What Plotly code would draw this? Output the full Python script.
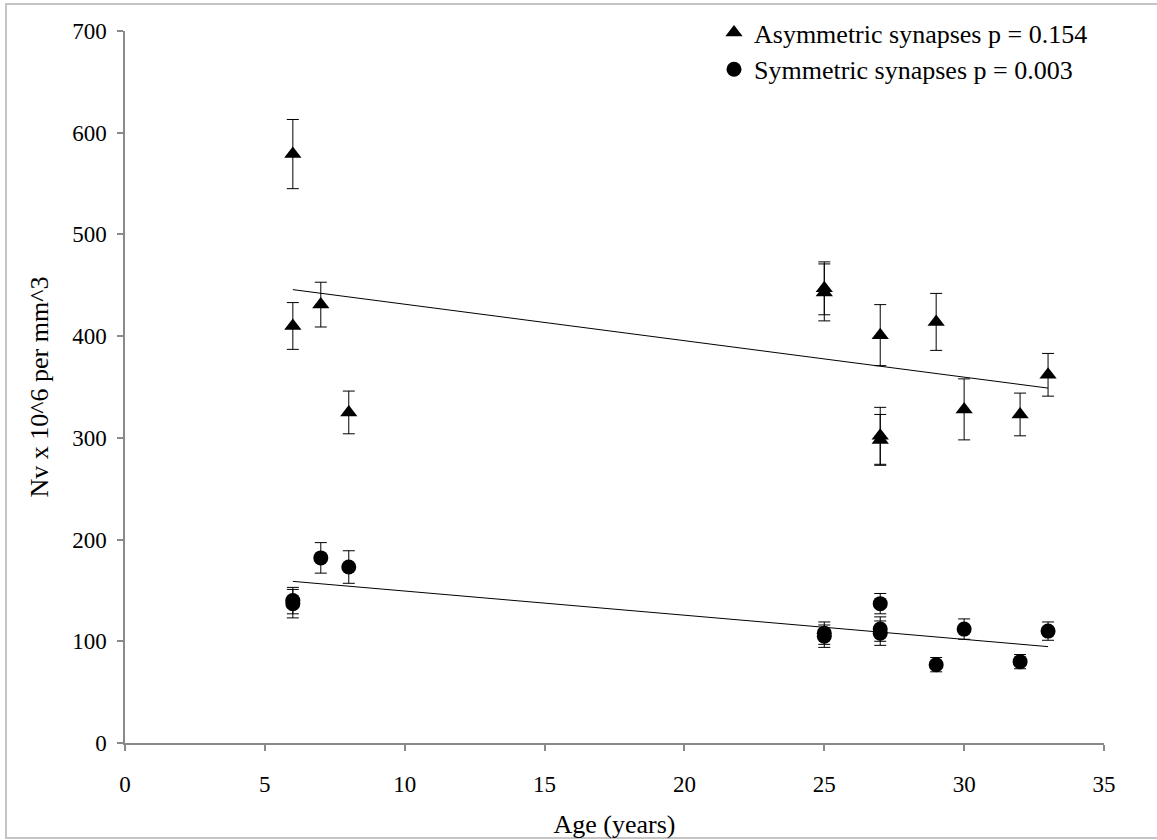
import numpy as np
import plotly.graph_objects as go

# ---- data ----
age_asym = [6, 6, 7, 8, 25, 25, 27, 27, 27, 29, 30, 32, 33]
nv_asym = [579, 410, 431, 325, 447, 443, 401, 302, 298, 414, 328, 323, 362]
err_asym = [34, 23, 22, 21, 26, 28, 30, 28, 25, 28, 30, 21, 21]

age_sym = [6, 6, 7, 8, 25, 25, 27, 27, 27, 29, 30, 32, 33]
nv_sym = [140, 137, 182, 173, 105, 108, 137, 112, 108, 77, 112, 80, 110]
err_sym = [13, 14, 15, 16, 11, 11, 10, 12, 12, 7, 10, 7, 9]

name_asym = "Asymmetric synapses p = 0.154"
name_sym = "Symmetric synapses p = 0.003"

x_ticks = [0, 5, 10, 15, 20, 25, 30, 35]
y_ticks = [0, 100, 200, 300, 400, 500, 600, 700]

FONT = "Liberation Serif, Times New Roman, serif"
AXIS_GREY = "#8a8a8a"


def trend(xs, ys):
    k, b = np.polyfit(xs, ys, 1)
    xl = np.array([min(xs), max(xs)], dtype=float)
    return xl, k * xl + b


fig = go.Figure()

for xs, ys in ((age_asym, nv_asym), (age_sym, nv_sym)):
    xl, yl = trend(xs, ys)
    fig.add_trace(go.Scatter(x=xl, y=yl, mode="lines",
                             line=dict(color="black", width=1),
                             showlegend=False, hoverinfo="skip"))

fig.add_trace(go.Scatter(
    x=age_asym, y=nv_asym, mode="markers", name=name_asym,
    marker=dict(symbol="triangle-up", size=15, color="black"),
    error_y=dict(type="data", array=err_asym, visible=True,
                 color="black", thickness=1, width=6)))

fig.add_trace(go.Scatter(
    x=age_sym, y=nv_sym, mode="markers", name=name_sym,
    marker=dict(symbol="circle", size=15, color="black"),
    error_y=dict(type="data", array=err_sym, visible=True,
                 color="black", thickness=1, width=6)))

L, R, T, B = 125, 53, 31, 97
W, H = 1157, 840
pw, ph = W - L - R, H - T - B


def px_x(p):
    return (p - L) / pw


def px_y(p):
    return (H - B - p) / ph


fig.add_shape(type="rect", xref="paper", yref="paper",
              x0=px_x(6), x1=px_x(1200), y0=px_y(4), y1=px_y(838),
              line=dict(color="#c4c4c4", width=2), fillcolor="rgba(0,0,0,0)",
              layer="below")

fig.update_layout(
    width=W, height=H,
    margin=dict(l=L, r=R, t=T, b=B, autoexpand=False),
    paper_bgcolor="white", plot_bgcolor="white",
    font=dict(family=FONT, color="black"),
    showlegend=True,
    legend=dict(x=px_x(714), y=px_y(9), xanchor="left", yanchor="top",
                bgcolor="rgba(0,0,0,0)", font=dict(size=26, family=FONT),
                tracegroupgap=0, itemwidth=30),
    xaxis=dict(range=[0, 35], tickvals=x_ticks, ticktext=[str(v) for v in x_ticks],
               showgrid=False, zeroline=False, showline=True,
               linecolor=AXIS_GREY, linewidth=1.5, ticks="outside",
               tickcolor=AXIS_GREY, ticklen=6, tickwidth=1.5,
               tickfont=dict(size=23, family=FONT), ticklabelstandoff=14,
               title=dict(text="Age (years)", font=dict(size=26, family=FONT),
                          standoff=18)),
    yaxis=dict(range=[0, 700], tickvals=y_ticks, ticktext=[str(v) for v in y_ticks],
               showgrid=False, zeroline=False, showline=True,
               linecolor=AXIS_GREY, linewidth=1.5, ticks="outside",
               tickcolor=AXIS_GREY, ticklen=6, tickwidth=1.5,
               tickfont=dict(size=23, family=FONT), ticklabelstandoff=6,
               title=dict(text="Nv x 10^6 per mm^3", font=dict(size=26, family=FONT),
                          standoff=16)),
)

fig.write_html("out.html")
